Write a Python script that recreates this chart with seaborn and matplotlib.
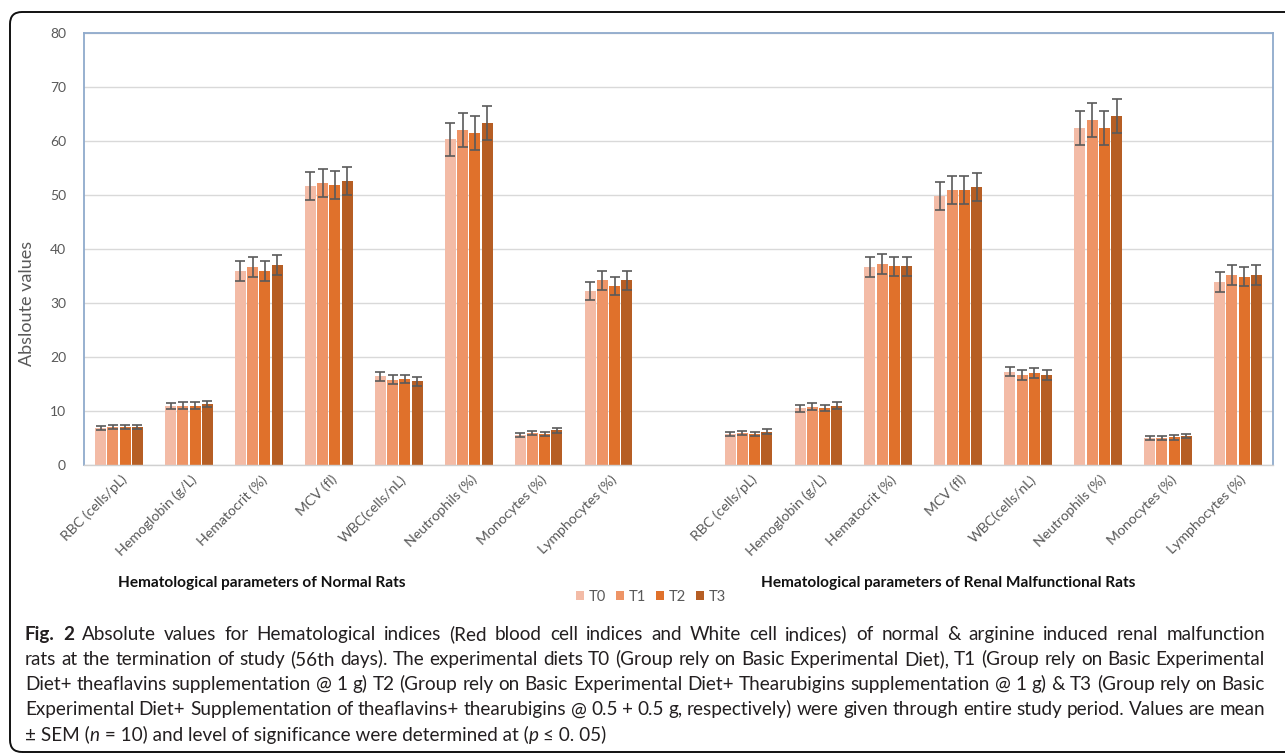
import numpy as np
import pandas as pd
import matplotlib
matplotlib.use("Agg")
import matplotlib.pyplot as plt
import seaborn as sns
from matplotlib import font_manager as fm
from matplotlib.patches import FancyBboxPatch, Patch
from matplotlib.container import BarContainer
from matplotlib.transforms import IdentityTransform, ScaledTranslation

# ---------------- data ----------------
params = ["RBC (cells/pL)", "Hemoglobin (g/L)", "Hematocrit (%)", "MCV (fl)",
          "WBC(cells/nL)", "Neutrophils (%)", "Monocytes (%)", "Lymphocytes (%)"]
treatments = ["T0", "T1", "T2", "T3"]

normal_T0 = [6.9, 10.9, 35.9, 51.7, 16.4, 60.3, 5.6, 32.2]
normal_T1 = [7.1, 11.0, 36.7, 52.2, 15.8, 62.0, 5.9, 34.2]
normal_T2 = [7.1, 11.0, 35.9, 51.9, 15.9, 61.5, 5.7, 33.2]
normal_T3 = [7.1, 11.3, 37.0, 52.6, 15.5, 63.3, 6.4, 34.2]
normal_sem = [0.4, 0.6, 1.8, 2.6, 0.8, 3.1, 0.4, 1.7]

renal_T0 = [5.8, 10.5, 36.7, 49.8, 17.3, 62.4, 5.0, 33.9]
renal_T1 = [5.9, 10.8, 37.2, 51.0, 16.7, 63.9, 5.0, 35.2]
renal_T2 = [5.8, 10.6, 36.8, 51.0, 17.0, 62.4, 5.1, 34.9]
renal_T3 = [6.2, 11.0, 36.8, 51.5, 16.7, 64.6, 5.4, 35.2]
renal_sem = [0.4, 0.6, 1.8, 2.6, 0.9, 3.2, 0.4, 1.8]

group_titles = ["Hematological parameters of Normal Rats",
                "Hematological parameters of Renal Malfunctional Rats"]
y_ticks = [0, 10, 20, 30, 40, 50, 60, 70, 80]
y_label = "Absloute values"
colors = ["#F3BBA6", "#EE9466", "#E0712B", "#B65E24"]

caption_lines = [
    [("Fig. 2", "bold"), (" Absolute values for Hematological indices (Red blood cell indices and White cell indices) of normal & arginine induced renal malfunction", "normal")],
    [("rats at the termination of study (56th days). The experimental diets T0 (Group rely on Basic Experimental Diet), T1 (Group rely on Basic Experimental", "normal")],
    [("Diet+ theaflavins supplementation @ 1 g) T2 (Group rely on Basic Experimental Diet+ Thearubigins supplementation @ 1 g) & T3 (Group rely on Basic", "normal")],
    [("Experimental Diet+ Supplementation of theaflavins+ thearubigins @ 0.5 + 0.5 g, respectively) were given through entire study period. Values are mean", "normal")],
    [("± SEM (", "normal"), ("n", "italic"), (" = 10) and level of significance were determined at (", "normal"), ("p", "italic"), (" ≤ 0. 05)", "normal")],
]


def has_font(name):
    try:
        fm.findfont(fm.FontProperties(family=name), fallback_to_default=False)
        return True
    except Exception:
        return False


sns.set_theme(style="white")
chart_font = next(f for f in ["Lato", "Open Sans", "DejaVu Sans"] if has_font(f))
cap_font = next(f for f in ["Lato", "Open Sans", "Roboto", "DejaVu Sans"] if has_font(f))
plt.rcParams["font.family"] = [chart_font, "DejaVu Sans"]

W, H = 1285, 754
fig = plt.figure(figsize=(W / 100, H / 100), dpi=100)
fig.patch.set_facecolor("white")
renderer = fig.canvas.get_renderer()


def text_width(s, **kw):
    t1 = fig.text(0, 0, "|" + s + "|", **kw)
    t2 = fig.text(0, 0, "||", **kw)
    w = t1.get_window_extent(renderer).width - t2.get_window_extent(renderer).width
    t1.remove()
    t2.remove()
    return w


# ---------------- table ----------------
rows = []
for prefix, series, sem in [("N", [normal_T0, normal_T1, normal_T2, normal_T3], normal_sem),
                            ("R", [renal_T0, renal_T1, renal_T2, renal_T3], renal_sem)]:
    for t, vals in zip(treatments, series):
        for p, v, s in zip(params, vals, sem):
            rows.append(dict(key=f"{prefix}|{p}", treatment=t, value=v, sem=s))
df = pd.DataFrame(rows)
order = [f"N|{p}" for p in params] + ["gap"] + [f"R|{p}" for p in params]
sem_lookup = {(r.key, r.treatment): r.sem for r in df.itertuples()}

ax_left, ax_right, ax_top, ax_bot = 84, 1273, 33, 465
ax = fig.add_axes([ax_left / W, 1 - ax_bot / H, (ax_right - ax_left) / W, (ax_bot - ax_top) / H])

bar_width = 0.7
sns.barplot(data=df, x="key", y="value", hue="treatment", order=order,
            hue_order=treatments, palette=colors, width=bar_width, gap=0.1,
            saturation=1, errorbar=None, ax=ax, legend=False, linewidth=0)

# error bars at bar tops
step = bar_width / len(treatments)
bar_containers = [c for c in ax.containers if isinstance(c, BarContainer)]
err_x, err_y, err_s = [], [], []
for container in bar_containers:
    for patch in container.patches:
        if patch is None:
            continue
        h = patch.get_height()
        if not np.isfinite(h):
            continue
        cx = patch.get_x() + patch.get_width() / 2
        idx = int(round(cx))
        hi = int(round((cx - idx) / step + 1.5))
        s = sem_lookup.get((order[idx], treatments[hi]))
        if s is None:
            continue
        err_x.append(cx)
        err_y.append(h)
        err_s.append(s)
ax.errorbar(err_x, err_y, yerr=err_s, fmt="none", ecolor="#5A5A5A",
            elinewidth=1.2, capsize=3.3, capthick=1.2, zorder=5)

ax.set_xlim(-0.5, len(order) - 0.5)
ax.set_ylim(0, 80)
ax.set_yticks(y_ticks)
ax.set_yticklabels([str(v) for v in y_ticks], fontsize=10, color="#595959")
ax.yaxis.grid(True, color="#D9D9D9", linewidth=1.0)
ax.xaxis.grid(False)
ax.set_axisbelow(True)
ax.tick_params(axis="both", length=0)
ax.tick_params(axis="y", pad=13)
ax.tick_params(axis="x", pad=9)

# x tick labels, size fitted to the reference label length (~108 px)
xfs = 10 * 108 / text_width("Hemoglobin (g/L)", fontsize=10)
xlabels = params + [""] + params
ax.set_xticks(range(len(order)))
ax.set_xticklabels(xlabels, rotation=45, ha="right", va="center",
                   rotation_mode="anchor", fontsize=xfs, color="#595959")
offset = ScaledTranslation(6 / 100, 0, fig.dpi_scale_trans)
for lab in ax.get_xticklabels():
    lab.set_transform(lab.get_transform() + offset)

ax.set_xlabel("")
yfs = 10 * 125 / text_width(y_label, fontsize=10)
ax.set_ylabel(y_label, fontsize=yfs, color="#595959")
ax.yaxis.set_label_coords(-0.041, 0.374)

for side in ["left", "top", "right"]:
    ax.spines[side].set_color("#8FAACC")
    ax.spines[side].set_linewidth(1.3)
ax.spines["bottom"].set_color("#D0D0D0")
ax.spines["bottom"].set_linewidth(1.0)

# legend
handles = [Patch(facecolor=c, edgecolor="none") for c in colors]
fig.legend(handles=handles, labels=treatments, loc="center",
           bbox_to_anchor=(651 / W, 1 - 597 / H), ncol=4, frameon=False,
           fontsize=10.5, handlelength=0.55, handleheight=0.55,
           handletextpad=0.3, columnspacing=0.7, labelcolor="#595959")

# group titles, fitted to measured widths
title_kw = dict(fontweight="bold", color="#111111")
title_fs = 10 * 287 / text_width(group_titles[0], fontsize=10, **title_kw)
fig.text(118 / W, 1 - 583 / H, group_titles[0], fontsize=title_fs, ha="left", va="center", **title_kw)
fig.text(761 / W, 1 - 583 / H, group_titles[1], fontsize=title_fs, ha="left", va="center", **title_kw)

# caption: justified lines 1-4 (word by word), last line left aligned
cap_family = [cap_font, "DejaVu Sans"]
style_kw = {"normal": dict(), "bold": dict(fontweight="bold"), "italic": dict(fontstyle="italic")}
cap_x0, cap_x1 = 25, 1265
natural = [sum(text_width(t, fontsize=10, family=cap_family, **style_kw[st]) for t, st in runs)
           for runs in caption_lines[:4]]
cap_fs = 10 * (cap_x1 - cap_x0) / max(natural)
cap_y0, cap_dy = 633, 25.2
baseline_shift = 0.36 * cap_fs * 100 / 72


def cap_text(x, y, s, st):
    fig.text(x / W, 1 - (y + baseline_shift) / H, s, fontsize=cap_fs, family=cap_family,
             ha="left", va="baseline", color="#231F20", **style_kw[st])


for i, runs in enumerate(caption_lines):
    y = cap_y0 + cap_dy * i
    if i < 4:
        words = []
        for t, st in runs:
            for w in t.split(" "):
                if w:
                    words.append((w, st))
        widths = [text_width(w, fontsize=cap_fs, family=cap_family, **style_kw[st]) for w, st in words]
        gap = (cap_x1 - cap_x0 - sum(widths)) / (len(words) - 1)
        x = cap_x0
        for (w, st), ww in zip(words, widths):
            cap_text(x, y, w, st)
            x += ww + gap
    else:
        x = cap_x0
        for t, st in runs:
            cap_text(x, y, t, st)
            x += text_width(t, fontsize=cap_fs, family=cap_family, **style_kw[st])

# outer rounded frame
frame = FancyBboxPatch((10, H - 752), 1300, 752 - 12,
                       boxstyle="round,pad=0,rounding_size=12",
                       transform=IdentityTransform(), facecolor="none",
                       edgecolor="#111111", linewidth=1.4)
fig.add_artist(frame)

fig.savefig("out.png", dpi=100, facecolor="white")
